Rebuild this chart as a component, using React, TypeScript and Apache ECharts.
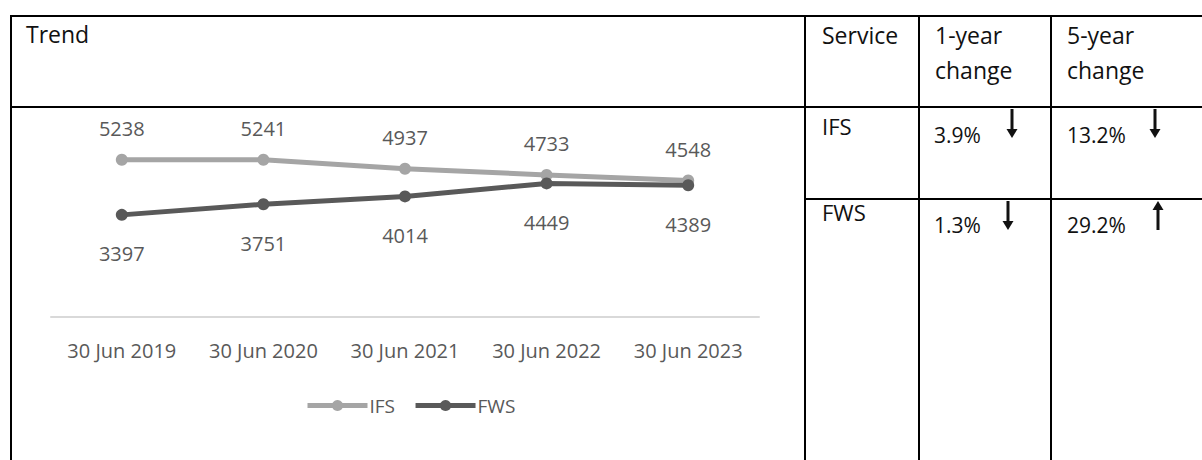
import React, { useEffect, useRef } from "react";
import * as echarts from "echarts";

const categories = ["30 Jun 2019", "30 Jun 2020", "30 Jun 2021", "30 Jun 2022", "30 Jun 2023"];
const ifsValues = [5238, 5241, 4937, 4733, 4548];
const fwsValues = [3397, 3751, 4014, 4449, 4389];
const services = ["IFS", "FWS"];
const oneYearChange = ["3.9%", "1.3%"];
const fiveYearChange = ["13.2%", "29.2%"];
const oneYearDir = ["down", "down"];
const fiveYearDir = ["down", "up"];

const W = 1202;
const H = 460;

export default function App() {
  const ref = useRef<HTMLDivElement>(null);
  useEffect(() => {
    if (!ref.current) return;
    const chart = echarts.init(ref.current, undefined, { renderer: "svg", width: W, height: H });
    const lineColor = "#000";
    const lw = 2;
    const hLine = (x1: number, x2: number, y: number) => ({
      type: "line",
      shape: { x1, y1: y, x2, y2: y },
      style: { stroke: lineColor, lineWidth: lw },
      z: 10,
    });
    const vLine = (x: number, y1: number, y2: number) => ({
      type: "line",
      shape: { x1: x, y1, x2: x, y2 },
      style: { stroke: lineColor, lineWidth: lw },
      z: 10,
    });
    const tableFont = "'Open Sans', 'Liberation Sans', sans-serif";
    const txt = (text: string, x: number, y: number, size = 23) => ({
      type: "text",
      x,
      y,
      style: {
        text,
        fill: "#111",
        font: `${size}px ${tableFont}`,
        textVerticalAlign: "middle",
        textAlign: "left",
      },
      z: 10,
    });
    const arrow = (dir: string, x: number, y1: number, y2: number) => {
      const up = dir === "up";
      const tipY = up ? y1 : y2;
      const baseY = up ? y1 + 9 : y2 - 9;
      return {
        type: "group",
        z: 10,
        children: [
          {
            type: "line",
            shape: { x1: x, y1: up ? baseY : y1, x2: x, y2: up ? y2 : baseY },
            style: { stroke: "#111", lineWidth: 3 },
            z: 10,
          },
          {
            type: "polygon",
            shape: { points: [[x - 5.5, baseY], [x + 5.5, baseY], [x, tipY]] },
            style: { fill: "#111" },
            z: 10,
          },
        ],
      };
    };
    const rowY = [135, 225];
    const rowLabelY = [126, 212];
    const graphics: any[] = [
      hLine(10, W, 16),
      hLine(10, W, 107),
      hLine(805, W, 199),
      vLine(11, 16, H),
      vLine(805, 16, H),
      vLine(919, 16, H),
      vLine(1051, 16, H),
      txt("Trend", 26, 34),
      txt("Service", 822, 35),
      txt("1-year", 935, 35),
      txt("change", 935, 70),
      txt("5-year", 1067, 35),
      txt("change", 1067, 70),
    ];
    services.forEach((s, i) => {
      graphics.push(txt(s, 822, rowLabelY[i], 22));
      graphics.push(txt(oneYearChange[i], 934, rowY[i], 21));
      graphics.push(txt(fiveYearChange[i], 1067, rowY[i], 21));
    });
    const arrowTop = [109, 201];
    const arrowBottom = [138, 230];
    const arrowX1 = [1012, 1008];
    const arrowX5 = [1155, 1158];
    services.forEach((_, i) => {
      graphics.push(arrow(oneYearDir[i], arrowX1[i], arrowTop[i], arrowBottom[i]));
      graphics.push(arrow(fiveYearDir[i], arrowX5[i], arrowTop[i], arrowBottom[i]));
    });

    const chartFont = "'Open Sans', 'Liberation Sans', sans-serif";
    chart.setOption({
      animation: false,
      backgroundColor: "#fff",
      grid: { left: 51, right: W - 759, top: 137, bottom: H - 316.5 },
      xAxis: {
        type: "category",
        data: categories,
        boundaryGap: true,
        axisLine: { show: true, lineStyle: { color: "#d9d9d9", width: 2 } },
        axisTick: { show: false },
        axisLabel: { color: "#595959", fontSize: 20, fontFamily: chartFont, margin: 24, interval: 0 },
        splitLine: { show: false },
      },
      yAxis: {
        type: "value",
        min: 0,
        max: 6000,
        interval: 1000,
        show: false,
        splitLine: { show: false },
      },
      legend: {
        data: ["IFS", "FWS"],
        top: 391,
        left: 300,
        itemWidth: 60,
        itemHeight: 14,
        itemGap: 18,
        lineStyle: { width: 5 },
        textStyle: { color: "#595959", fontSize: 19, fontFamily: chartFont, padding: [0, 0, 0, -3] },
      },
      series: [
        {
          name: "IFS",
          type: "line",
          data: ifsValues,
          symbol: "circle",
          symbolSize: 12,
          lineStyle: { width: 5, color: "#a5a5a5" },
          itemStyle: { color: "#a5a5a5" },
          label: {
            show: true,
            position: "top",
            distance: 15,
            color: "#595959",
            fontSize: 20,
            fontFamily: chartFont,
          },
        },
        {
          name: "FWS",
          type: "line",
          data: fwsValues,
          symbol: "circle",
          symbolSize: 12,
          lineStyle: { width: 5, color: "#595959" },
          itemStyle: { color: "#595959" },
          label: {
            show: true,
            position: "bottom",
            distance: 23,
            color: "#595959",
            fontSize: 20,
            fontFamily: chartFont,
          },
        },
      ],
      graphic: graphics,
    });
    return () => chart.dispose();
  }, []);
  return (
    <div
      ref={ref}
      style={{ position: "fixed", left: 0, top: 0, width: W, height: H, background: "#fff" }}
    />
  );
}
